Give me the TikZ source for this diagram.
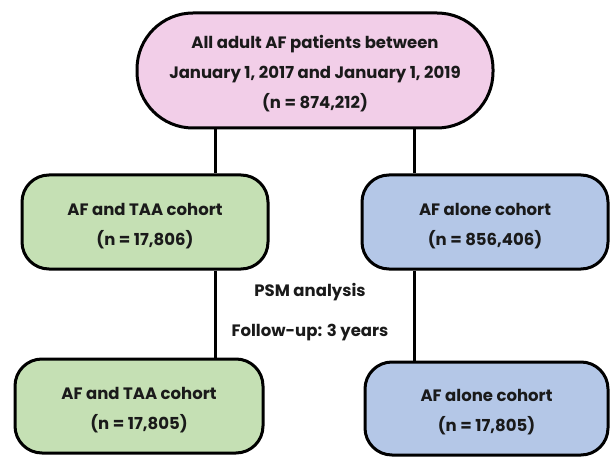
\documentclass[tikz,border=0pt]{standalone}
\usepackage{fontspec}
\setmainfont{Poppins}
\definecolor{pinkfill}{HTML}{F2CEE8}
\definecolor{greenfill}{HTML}{C5E0B4}
\definecolor{bluefill}{HTML}{B4C7E7}
\definecolor{ink}{HTML}{1A1A1A}
\newcommand{\dropstrut}{\rule{0pt}{20pt}}
\tikzset{
  box/.style={draw=black, line width=3pt, rectangle, rounded corners=27pt, align=center,
    font=\fontsize{16.5}{30}\selectfont\bfseries, text=ink, inner sep=0pt},
  conn/.style={draw=black, line width=3pt},
  lbl/.style={font=\fontsize{16.5}{17}\selectfont\bfseries, text=ink, inner sep=0pt}
}
\begin{document}
\begin{tikzpicture}[x=1pt,y=-1pt]
\useasboundingbox[fill=white] (0,0) rectangle (610,457);
\node[box, rounded corners=56pt, fill=pinkfill, minimum width=356pt, minimum height=115pt] (top) at (315,70.5)
  {\dropstrut All adult AF patients between\\January 1, 2017 and January 1, 2019\\(n = 874,212)};
\node[box, fill=greenfill, minimum width=246pt, minimum height=94pt] (ml) at (145,222)
  {\dropstrut AF and TAA cohort\\(n = 17,806)};
\node[box, fill=bluefill, minimum width=246pt, minimum height=94pt] (mr) at (485,222)
  {\dropstrut AF alone cohort\\(n = 856,406)};
\node[box, fill=greenfill, minimum width=248pt, minimum height=94pt] (bl) at (139,406)
  {\dropstrut AF and TAA cohort\\(n = 17,805)};
\node[box, fill=bluefill, minimum width=243pt, minimum height=93pt] (br) at (486.5,408.5)
  {\dropstrut AF alone cohort\\(n = 17,805)};
\node[lbl] (psm) at (310,292) {PSM analysis};
\node[lbl] (fu) at (310,333) {Follow-up: 3 years};
\coordinate (lx) at (215,0);
\coordinate (rx) at (414,0);
\draw[conn] (top.south -| lx) -- (ml.north -| lx);
\draw[conn] (top.south -| rx) -- (mr.north -| rx);
\draw[conn] (ml.south -| lx) -- (bl.north -| lx);
\draw[conn] (mr.south -| rx) -- (br.north -| rx);
\end{tikzpicture}
\end{document}
